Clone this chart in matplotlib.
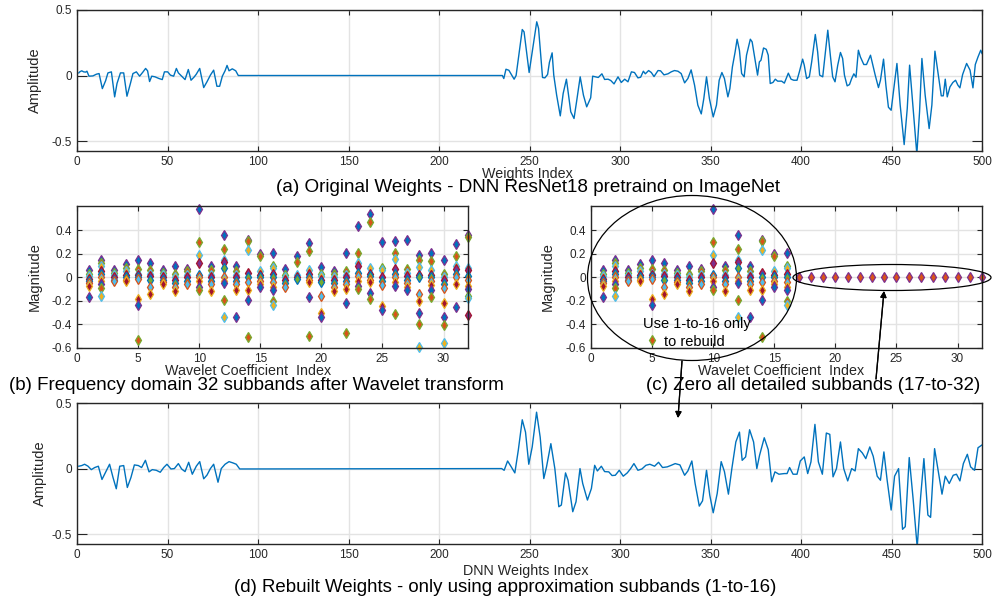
import matplotlib
matplotlib.use("Agg")
import matplotlib.pyplot as plt
from matplotlib.patches import Ellipse

plt.rcParams["font.family"] = ["Liberation Sans", "DejaVu Sans"]

# (a) original weights (index, amplitude)
a_idx = [1, 1.5, 2.6, 3.7, 4.8, 5.5, 6.6, 8.8, 10.7, 12.2, 14, 15.8, 17.1, 19, 20.8, 22.1, 24, 25.8,
         27.6, 29.5, 30.9, 32.8, 34.6, 36.5, 37.9, 39, 40.1, 41.3, 43.1, 45.3, 47.1, 48.3, 50.1, 51.6,
         53.4, 54.9, 56, 57.8, 59.7, 61.5, 63, 64.8, 65.9, 67.8, 70, 71.8, 73.7, 75.5, 77.3, 78.8, 80.3,
         81.8, 82.9, 84, 85.8, 87.7, 89.1, 235,
         235.8, 237, 238.6, 241.5, 242.6, 246, 247, 249.8, 254, 255, 257.2, 258.5, 260, 261, 262.5,
         263.4, 265, 267, 268.6, 270.4, 272.8, 274.6, 276, 278, 279.8, 281.6, 283.8, 284.9, 286.4, 288,
         290, 291.5, 293.4, 294.9, 296.7, 298.9, 300.7, 302.6, 304.4, 306.3, 308, 309.9, 311.4, 312.9,
         314, 315.8, 317.3, 318.8, 321, 322.4, 324.3, 326.5, 328.3, 330.1, 332, 333.8, 335.7, 337.5,
         339.3, 341.2, 343, 344.9, 346.3, 347.8, 349.4, 351.5, 353.3, 354.8, 356.3, 357.7, 359.6, 360.7,
         362.1, 363.6, 364.7, 366, 367.2, 368.6, 369.9, 372, 373, 374.5, 376, 377, 377.9, 379.3, 380.8,
         381.9, 383, 384.5, 385.8, 387.1, 389.3, 390.8, 393, 394.5, 396, 397.8, 399.1, 400.9, 401.8,
         403.1, 404.6, 405.9, 407.9, 409.2, 410.3, 412, 413.3, 414.8, 416.2, 417.5, 418.8, 420.3, 421.8,
         423, 424, 425.5, 426.8, 428, 429.2, 430.4, 431.7, 432.8, 434.7, 436.2, 438.4, 439.7, 441,
         442.8, 443.9, 445.6, 446.9, 448.3, 449.8, 451.3, 453, 454.8, 457, 458.7, 460, 461.8, 464,
         465.5, 466.8, 468.6, 470.8, 472.3, 474, 475.6, 477.5, 478.6, 479.7, 480.8, 482.3, 483.9, 485.4,
         486.7, 487.8, 489.3, 491.5, 493.4, 495, 496.3, 497.8, 499.3, 500]
a_amp = [.02, .028, .036, .028, .026, .033, -.005, -.003, .01, .015, -.1, -.04, .02, .028, -.163, -.061,
         .02, .02, -.158, -.061, .015, .028, -.005, .028, .054, .036, -.046, -.005, -.01, -.023, -.031,
         .028, .028, .003, -.005, .054, .02, -.005, -.031, .046, -.036, -.01, .01, .054, -.092, -.048,
         .003, .041, -.082, -.082, -.005, .036, .077, .036, .051, .036, 0, 0,
         -.023, .048, .04, -.028, 0, .351, .333, .023, .41, .36, -.015, -.018, .008, .10, .173, .003,
         -.15, -.308, -.137, -.028, -.277, -.328, -.2, -.01, -.15, -.239, -.17, -.005, -.01, -.015,
         .013, -.03, -.028, -.038, -.064, -.01, -.053, -.028, -.048, .028, .023, -.018, -.013, .033,
         .013, .038, .023, -.008, .038, .036, .005, .013, .028, .038, .033, .015, -.056, -.023, .043,
         -.074, -.226, -.293, -.176, -.01, -.176, -.316, -.226, -.036, .023, -.023, -.163, -.1, .066,
         .18, .277, .19, .015, -.01, .155, .277, .257, .13, .003, .104, .117, .21, .2, .155, -.061,
         -.053, -.028, -.043, -.043, -.058, .018, -.028, -.036, -.036, .028, .125, .079, -.023, -.01,
         .104, .313, .18, .003, -.01, .155, .346, .155, -.01, -.048, .079, .176, .13, .003, -.079,
         -.069, -.023, .013, -.013, .193, .142, .084, .084, .155, .079, .003, -.092, -.036, .125,
         -.074, -.242, -.265, -.1, .092, -.226, -.527, -.252, .079, -.226, -.6, -.277, .13, -.15,
         -.405, -.226, .186, .028, -.155, -.155, -.028, -.163, -.087, -.053, -.036, -.074, -.094,
         .008, .092, .041, -.094, .084, .142, .193, .168]

# (d) rebuilt weights (index, amplitude)
d_idx = [1, 2.6, 4.2, 6.1, 7.9, 9.8, 11.8, 13.8, 15.8, 18, 19.9, 21.7, 23.6, 25.8, 27.8, 29.8, 31.7,
         33.9, 35.7, 37.8, 39.8, 41.6, 43.8, 46, 47.9, 49.7, 51.9, 53.8, 56, 57.8, 59.7, 61.7, 63.7,
         65.9, 67.8, 70, 71.8, 73.7, 75.5, 77.9, 79.7, 81.8, 84, 86.2, 88, 89.9, 234.6,
         236, 237.9, 239.7, 241.9, 243.8, 246, 247.8, 249.6, 251.5, 253.9, 255.9, 257.9, 259.4, 261.8,
         264, 266.2, 267.6, 269.9, 271.3, 273.9, 275.7, 277.9, 279.4, 282, 284.2, 286, 287.5, 289.7,
         291.5, 293.8, 295.6, 297.4, 299.6, 301.8, 304, 305.9, 307.7, 309.9, 312.1, 314.3, 316.5,
         319.1, 321.3, 323.5, 326.1, 328.3, 330.5, 333.1, 335.7, 337.5, 339.7, 341.5, 343.8, 345.6,
         347.8, 349.6, 351.5, 353.7, 355.9, 357.7, 359.9, 361.8, 364, 366, 367.5, 369.4, 371.6, 373.8,
         375.6, 377.1, 379.7, 381.9, 383.8, 385.6, 387.8, 390.8, 392.3, 393.7, 395.6, 397.8, 399.6,
         401.8, 403.7, 405.5, 407.7, 409.6, 411.8, 414, 415.9, 417.7, 419.6, 421.8, 423.6, 425.8, 428,
         429.9, 431.7, 433.9, 435.8, 438, 439.9, 442.1, 443.9, 445.8, 447.6, 449.8, 451.7, 453.9,
         456.1, 457.6, 459.8, 462, 464.2, 466.1, 467.9, 470.1, 471.6, 473.8, 475.6, 477.9, 479.7,
         481.9, 484.1, 485.9, 487.8, 489.7, 491.9, 493.7, 495.9, 497.8, 499.6, 500]
d_amp = [.018, .023, .033, .018, -.008, .008, .018, -.083, -.028, .033, -.068, -.154, .018, .023, -.144,
         -.068, .028, .023, .008, .063, -.025, -.008, -.013, -.028, .008, .033, -.003, 0, .038, -.003,
         -.023, .048, -.043, .018, .053, -.078, -.05, 0, .033, -.104, 0, .033, .053, .043, .033, -.003, 0,
         -.013, .058, .018, -.033, .139, .372, .278, .033, .165, .43, .24, -.076, .013, .19, 0, -.291,
         -.278, -.033, -.089, -.329, -.253, 0, -.114, -.24, -.152, .025, -.018, .018, -.023, -.025,
         -.053, -.051, -.013, -.058, -.033, 0, .038, -.013, -.003, .025, .033, .018, .048, .008, .013,
         .025, .038, .028, -.051, -.018, .058, -.114, -.286, -.246, -.013, -.203, -.337, -.19, .053,
         -.023, -.195, 0, .203, .278, .063, .089, .296, .203, 0, .101, .235, .144, -.101, -.025, -.043,
         -.038, -.038, .008, -.043, -.043, .058, .089, -.038, .051, .337, .051, -.043, .271, .261,
         -.063, 0, .203, 0, -.094, 0, -.018, .152, .119, .076, .165, .094, -.058, -.089, .127, -.089,
         -.316, -.058, 0, -.463, -.443, .084, -.24, -.6, -.215, .076, -.354, -.372, .152, 0, -.195,
         -.058, -.114, -.051, -.043, -.094, .038, .109, .013, -.013, .159, .177, .18]

# (b) wavelet coefficients, one list per subband 1..32
coefs = [
    [.06, .03, .01, -.01, -.03, -.05, -.07, -.17],
    [.145, .12, .1, .05, .03, 0, -.03, -.06, -.09, -.155],
    [.06, .04, .02, 0, -.02, -.03],
    [.11, .08, .05, .02, 0, -.02, -.03],
    [.15, .07, .03, .02, 0, -.01, -.18, -.235, -.535],
    [.12, .06, .03, .01, -.02, -.08, -.145],
    [.06, .04, .02, 0, -.02, -.04, -.06],
    [.1, .03, 0, -.02, -.05, -.08, -.12],
    [.07, .05, .02, 0, -.03, -.06],
    [.58, .30, .19, .12, .02, 0, -.03, -.08, -.11],
    [.1, .06, .02, 0, -.03, -.06, -.12],
    [.36, .24, .15, .13, .08, 0, -.03, -.05, -.19, -.34],
    [.1, .05, .02, 0, -.03, -.06, -.11, -.34],
    [.32, .31, .23, .04, 0, -.04, -.11, -.19, -.51],
    [.2, .18, .05, .02, 0, -.03, -.06, -.08],
    [.21, .1, .08, .03, 0, -.04, -.08, -.11, -.2, -.235],
    [.07, .02, 0, -.02, -.05, -.08],
    [.185, .13, .02, 0, -.01],
    [.29, .22, .06, .03, 0, -.02, -.04, -.17, -.5],
    [.09, .03, .01, -.02, -.04, -.155, -.3, -.34],
    [.05, .03, 0, -.02, -.05, -.085, -.12],
    [.21, .05, .02, 0, -.03, -.06, -.1, -.22, -.47],
    [.44, .21, .12, .1, .04, .01, -.03, -.07, -.1],
    [.54, .47, .08, .03, .01, -.02, -.04, -.13, -.18],
    [.30, .08, .06, 0, -.03, -.065, -.24, -.275],
    [.31, .21, .16, .07, .03, 0, -.04, -.07, -.315],
    [.315, .07, .04, .01, -.02, -.05, -.08, -.11],
    [.19, .15, .09, .02, 0, -.14, -.2, -.305, -.4, -.59],
    [.21, .14, .06, .02, 0, -.03, -.065, -.11, -.17],
    [.145, .03, 0, -.02, -.06, -.09, -.22, -.34, -.405, -.555],
    [.285, .18, .1, .07, .03, 0, -.06, -.255],
    [.36, .34, .08, .06, .01, -.02, -.07, -.1, -.155, -.175, -.32],
]
n_keep = 16

mcolors = ["#0072BD", "#D95319", "#EDB120", "#7E2F8E", "#77AC30", "#4DBEEE", "#A2142F"]
blue = "#0072BD"
axcol = "#262626"
gridcol = "#e3e3e3"

W, H = 992, 605
fig = plt.figure(figsize=(W / 100, H / 100), dpi=100)


def add_ax(l, r, t, b):
    return fig.add_axes([l / W, 1 - b / H, (r - l) / W, (b - t) / H])


def style(ax, ylen):
    for s in ax.spines.values():
        s.set_color(axcol)
        s.set_linewidth(1.0)
    ax.tick_params(direction="in", top=True, right=True, colors=axcol, labelsize=8.5,
                   labelcolor=axcol, width=0.8)
    ax.tick_params(axis="x", length=3.5, pad=3.5)
    ax.tick_params(axis="y", length=ylen, pad=3.5)
    ax.grid(True, color=gridcol, linewidth=1.0)
    ax.set_axisbelow(True)


def scatter_bands(ax, bands, zero_from=None):
    for i, vals in enumerate(bands):
        x = i + 1
        if zero_from is not None and x >= zero_from:
            ax.plot(x, 0, "d", ms=5.5, mfc="#D95319", mec="#7E2F8E", mew=0.9, clip_on=False)
            continue
        for k, v in enumerate(vals):
            ax.plot(x, v, "d", ms=5.5, mfc=mcolors[k % 7], mec=mcolors[(k + 3) % 7],
                    mew=0.9, clip_on=False)


def weight_axes(ax, idx, amp, ybot):
    ax.plot(idx, amp, color=blue, lw=1.0)
    ax.set_xlim(0, 500)
    ax.set_ylim(ybot, 0.5)
    ax.set_xticks(range(0, 501, 50))
    ax.set_yticks([-0.5, 0, 0.5])
    ax.set_yticklabels(["-0.5", "0", "0.5"])
    style(ax, 7)


def coef_axes(ax):
    ax.set_xlim(0, 32)
    ax.set_ylim(-0.6, 0.606)
    ax.set_xticks(range(0, 31, 5))
    ax.set_yticks([-0.6, -0.4, -0.2, 0, 0.2, 0.4])
    ax.set_yticklabels(["-0.6", "-0.4", "-0.2", "0", "0.2", "0.4"])
    style(ax, 3.5)


# (a)
ax_a = add_ax(77, 982, 10, 151)
weight_axes(ax_a, a_idx, a_amp, -0.576)
ax_a.set_ylabel("Amplitude", fontsize=10.5, color=axcol)
ax_a.yaxis.set_label_coords(-0.0387, 0.5)

# (b)
ax_b = add_ax(77, 468, 206, 348)
scatter_bands(ax_b, coefs)
coef_axes(ax_b)
ax_b.set_ylabel("Magnitude", fontsize=10.5, color=axcol)
ax_b.yaxis.set_label_coords(-0.09, 0.5)

# (c)
ax_c = add_ax(591, 982, 206, 348)
scatter_bands(ax_c, coefs[:n_keep] + [[0]] * (32 - n_keep), zero_from=n_keep + 1)
coef_axes(ax_c)
ax_c.set_ylabel("Magnitude", fontsize=10.5, color=axcol)
ax_c.yaxis.set_label_coords(-0.092, 0.5)

# (d)
ax_d = add_ax(77, 982, 403, 544)
weight_axes(ax_d, d_idx, d_amp, -0.575)
ax_d.set_ylabel("Amplitude", fontsize=10.5, color=axcol)
ax_d.yaxis.set_label_coords(-0.0335, 0.5)


def ftext(x, y, s, size, color=axcol, **kw):
    fig.text(x / W, 1 - y / H, s, ha="center", va="center", fontsize=size, color=color, **kw)


# axis labels and captions
ftext(527, 174, "Weights Index", 10.3)
ftext(248, 371, "Wavelet Coefficient  Index", 10.3)
ftext(781, 371, "Wavelet Coefficient  Index", 10.3)
ftext(526, 571, "DNN Weights Index", 10.3)
ftext(528, 188, "(a) Original Weights - DNN ResNet18 pretraind on ImageNet", 13.6, color="black")
ftext(256, 385, "(b) Frequency domain 32 subbands after Wavelet transform", 13.5, color="black")
ftext(813, 386, "(c) Zero all detailed subbands (17-to-32)", 13.5, color="black")
ftext(505, 588, "(d) Rebuilt Weights - only using approximation subbands (1-to-16)", 13.4, color="black")

# annotations on panel (c)
ftext(697, 324, "Use 1-to-16 only", 10.5, color="black", zorder=6)
ftext(694, 342, "to rebuild", 10.5, color="black", zorder=6)
big = Ellipse((692 / W, 1 - 278 / H), 209 / W, 165 / H, transform=fig.transFigure,
              fill=False, ec="black", lw=0.9, zorder=5)
small = Ellipse((892 / W, 1 - 277.5 / H), 198 / W, 26 / H, transform=fig.transFigure,
                fill=False, ec="black", lw=0.9, zorder=5)
fig.add_artist(big)
fig.add_artist(small)
arrow_kw = dict(arrowstyle="-|>", color="black", lw=0.9, mutation_scale=9, shrinkA=0, shrinkB=0)
fig.add_artist(plt.annotate("", xy=(884, H - 291), xytext=(876, H - 379), xycoords="figure pixels",
                            textcoords="figure pixels", arrowprops=arrow_kw, zorder=6))
fig.add_artist(plt.annotate("", xy=(678, H - 418), xytext=(682, H - 361), xycoords="figure pixels",
                            textcoords="figure pixels", arrowprops=arrow_kw, zorder=6))

fig.savefig("out.png", dpi=100)
